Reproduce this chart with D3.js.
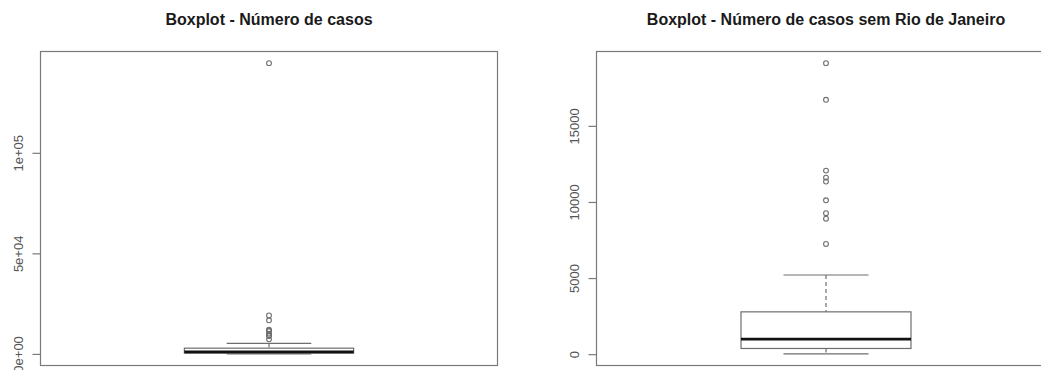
<!DOCTYPE html>
<html>
<head>
<meta charset="utf-8">
<script src="https://cdn.jsdelivr.net/npm/d3@7"></script>
<style>
  html, body { margin: 0; padding: 0; background: #fff; overflow: hidden; }
  svg { display: block; }
</style>
</head>
<body>
<svg id="chart" width="1041" height="370"></svg>
<script>
// Panel titles
const titles = ["Boxplot - Número de casos", "Boxplot - Número de casos sem Rio de Janeiro"];

// Five-number summaries per panel: lower whisker, Q1, median, Q3, upper whisker
const whiskerLow = [20, 20];
const quartile1 = [370, 375];
const medians = [1000, 990];
const quartile3 = [2850, 2780];
const whiskerHigh = [5200, 5200];

// Outlying values (cases) per panel
const outliersAll = [144600, 19120, 16710, 12060, 11600, 11340, 10110, 9260, 8900, 7240];
const outliersNoRio = [19120, 16710, 12060, 11600, 11340, 10110, 9260, 8900, 7240];
const outliers = [outliersAll, outliersNoRio];

// Axis ticks and their labels
const tickValues = [[0, 50000, 100000], [0, 5000, 10000, 15000]];
const tickLabels = [["0e+00", "5e+04", "1e+05"], ["0", "5000", "10000", "15000"]];

const svg = d3.select("#chart");
const panels = [
  { left: 40.5, right: 497.5 },
  { left: 596.5, right: 1055.5 }
];
const plotTop = 51.5, plotBottom = 365.5;
const frameColor = "#7a7a7a";
const lineColor = "#6e6e6e";

panels.forEach((p, i) => {
  const lo = Math.min(whiskerLow[i], ...outliers[i]);
  const hi = Math.max(whiskerHigh[i], ...outliers[i]);
  const pad = (hi - lo) * 0.04;
  const y = d3.scaleLinear().domain([lo - pad, hi + pad]).range([plotBottom, plotTop]);
  const x = d3.scaleLinear().domain([0.46, 1.54]).range([p.left, p.right]);
  const g = svg.append("g");

  // title
  g.append("text")
    .attr("x", x(1))
    .attr("y", 24.5)
    .attr("text-anchor", "middle")
    .attr("font-family", "Liberation Sans, Arial, sans-serif")
    .attr("font-weight", "bold")
    .attr("font-size", 16)
    .attr("fill", "#1a1a1a")
    .text(titles[i]);

  // frame
  g.append("rect")
    .attr("x", p.left).attr("y", plotTop)
    .attr("width", p.right - p.left).attr("height", plotBottom - plotTop)
    .attr("fill", "none").attr("stroke", frameColor).attr("stroke-width", 1.2);

  // y axis
  const axis = d3.axisLeft(y)
    .tickValues(tickValues[i])
    .tickFormat((d, k) => tickLabels[i][k])
    .tickSize(8)
    .tickSizeOuter(0);
  const ag = g.append("g").attr("transform", `translate(${p.left},0)`).call(axis);
  ag.select(".domain").remove();
  ag.selectAll(".tick line").attr("stroke", frameColor).attr("stroke-width", 1.2);
  ag.selectAll(".tick text")
    .attr("transform", "rotate(-90)")
    .attr("x", 0)
    .attr("y", -17.5)
    .attr("dy", 0)
    .attr("text-anchor", "middle")
    .attr("font-family", "Liberation Sans, Arial, sans-serif")
    .attr("font-size", 13)
    .attr("fill", "#555");

  // lower and upper whiskers (dashed)
  g.append("line")
    .attr("x1", x(1)).attr("x2", x(1))
    .attr("y1", y(whiskerHigh[i])).attr("y2", y(quartile3[i]))
    .attr("stroke", lineColor).attr("stroke-width", 1.2).attr("stroke-dasharray", "4,3");
  g.append("line")
    .attr("x1", x(1)).attr("x2", x(1))
    .attr("y1", y(quartile1[i])).attr("y2", y(whiskerLow[i]))
    .attr("stroke", lineColor).attr("stroke-width", 1.2).attr("stroke-dasharray", "4,3");

  // staples
  [whiskerLow[i], whiskerHigh[i]].forEach(v => {
    g.append("line")
      .attr("x1", x(0.9)).attr("x2", x(1.1))
      .attr("y1", y(v)).attr("y2", y(v))
      .attr("stroke", lineColor).attr("stroke-width", 1.2);
  });

  // box
  g.append("rect")
    .attr("x", x(0.8)).attr("y", y(quartile3[i]))
    .attr("width", x(1.2) - x(0.8))
    .attr("height", y(quartile1[i]) - y(quartile3[i]))
    .attr("fill", "none").attr("stroke", lineColor).attr("stroke-width", 1.2);

  // median
  g.append("line")
    .attr("x1", x(0.8)).attr("x2", x(1.2))
    .attr("y1", y(medians[i])).attr("y2", y(medians[i]))
    .attr("stroke", "#111").attr("stroke-width", 2.6);

  // outliers
  g.selectAll("circle.out").data(outliers[i]).join("circle")
    .attr("class", "out")
    .attr("cx", x(1)).attr("cy", d => y(d))
    .attr("r", 2.4)
    .attr("fill", "none").attr("stroke", lineColor).attr("stroke-width", 1.1);
});
</script>
</body>
</html>
